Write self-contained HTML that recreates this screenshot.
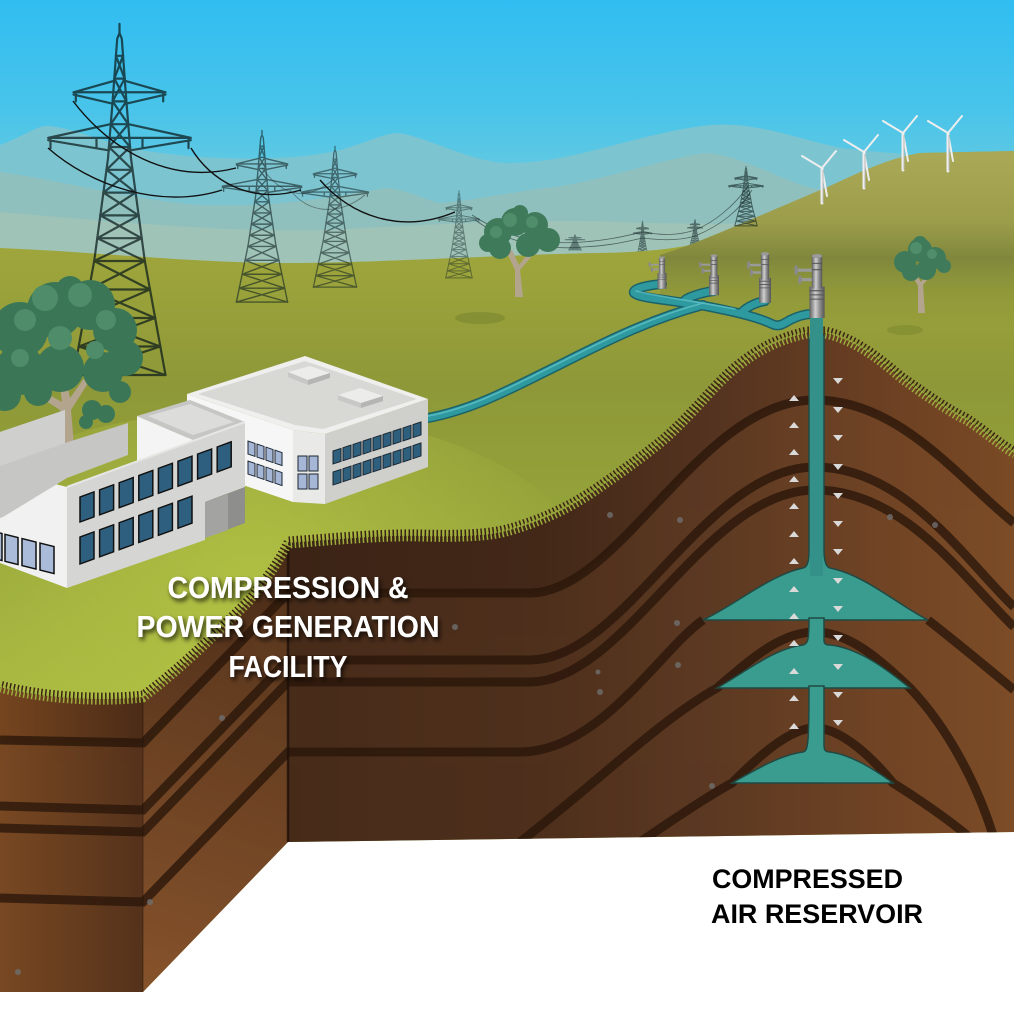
<!DOCTYPE html>
<html><head><meta charset="utf-8"><title>Compressed Air Energy Storage</title>
<style>html,body{margin:0;padding:0;background:#fff;width:1014px;height:1015px;overflow:hidden}svg{display:block}</style>
</head><body>
<svg xmlns="http://www.w3.org/2000/svg" xmlns:xlink="http://www.w3.org/1999/xlink" width="1014" height="1015" viewBox="0 0 1014 1015">
<defs>
 <linearGradient id="sky" gradientUnits="userSpaceOnUse" x1="0" y1="0" x2="0" y2="270">
  <stop offset="0" stop-color="#31bdf1"/><stop offset=".4" stop-color="#48c4ea"/><stop offset=".75" stop-color="#6ecbde"/><stop offset="1" stop-color="#8ccfd3"/>
 </linearGradient>
 <linearGradient id="grd" gradientUnits="userSpaceOnUse" x1="0" y1="245" x2="0" y2="720">
  <stop offset="0" stop-color="#9fa63c"/><stop offset=".3" stop-color="#8e9838"/><stop offset=".6" stop-color="#96a53a"/><stop offset="1" stop-color="#aabb42"/>
 </linearGradient>
 <linearGradient id="hill" gradientUnits="userSpaceOnUse" x1="0" y1="150" x2="0" y2="330">
  <stop offset="0" stop-color="#aaa957"/><stop offset=".4" stop-color="#9c9d4b"/><stop offset=".6" stop-color="#80873c"/><stop offset="1" stop-color="#8f9838" stop-opacity="0"/>
 </linearGradient>
 <radialGradient id="lit" cx="250" cy="580" r="330" gradientUnits="userSpaceOnUse">
  <stop offset="0" stop-color="#b8c846" stop-opacity=".7"/><stop offset="1" stop-color="#b8c846" stop-opacity="0"/>
 </radialGradient>
 <linearGradient id="lf" gradientUnits="userSpaceOnUse" x1="0" y1="0" x2="143" y2="0">
  <stop offset="0" stop-color="#75451f"/><stop offset="1" stop-color="#4b2b17"/>
 </linearGradient>
 <linearGradient id="df" gradientUnits="userSpaceOnUse" x1="143" y1="992" x2="288" y2="560">
  <stop offset="0" stop-color="#86522a"/><stop offset="1" stop-color="#4a2c18"/>
 </linearGradient>
 <linearGradient id="rf" gradientUnits="userSpaceOnUse" x1="288" y1="0" x2="1014" y2="0">
  <stop offset="0" stop-color="#3b2315"/><stop offset=".35" stop-color="#432818"/><stop offset=".6" stop-color="#553420"/><stop offset=".8" stop-color="#6a3f22"/><stop offset="1" stop-color="#7a4a25"/>
 </linearGradient>
 <linearGradient id="metal" x1="0" y1="0" x2="1" y2="0">
  <stop offset="0" stop-color="#5e5e5e"/><stop offset=".4" stop-color="#cfcfcf"/><stop offset=".7" stop-color="#8a8a8a"/><stop offset="1" stop-color="#555"/>
 </linearGradient>
 <clipPath id="soil">
  <path d="M0,687 C40,698 100,702 143,697 C180,670 220,630 250,600 C270,575 280,560 288,543 C330,540 380,535 420,536 C460,537 490,536 510,530 C545,520 575,505 600,487 C625,470 645,455 660,443 C690,418 710,390 733,370 C755,352 775,340 807,333 L825,333 C850,338 875,355 900,377 C925,395 950,412 967,420 C985,432 1000,445 1014,453 L1014,832 L288,842 L143,992 L0,992 Z"/>
 </clipPath>
 <filter id="ts" x="-10%" y="-40%" width="125%" height="180%">
  <feDropShadow dx="2" dy="3" stdDeviation="2.5" flood-color="#000" flood-opacity=".75"/>
 </filter>
 <g id="tw" fill="none" stroke-linecap="round">
  <path vector-effect="non-scaling-stroke" d="M50,-8 L50,0 L48,5 L44,60 L40,110 L28,200 L10,300 M50,0 L52,5 L56,60 L60,110 L72,200 L90,300"/>
  <path vector-effect="non-scaling-stroke" d="M46.9,20H53.1 M45.5,40H54.5 M44,60H56 M42.4,80H57.6 M40.8,100H59.2 M38.7,120H61.3 M36,140H64 M33.3,160H66.7 M30.7,180H69.3 M28,200H72 M23.5,225H76.5 M19,250H81 M14.5,275H85.5 M10,300H90"/>
  <path vector-effect="non-scaling-stroke" d="M46.9,20L54.5,40 M53.1,20L45.5,40 M45.5,40L56,60 M54.5,40L44,60 M44,60L57.6,80 M56,60L42.4,80 M42.4,80L59.2,100 M57.6,80L40.8,100 M40.8,100L61.3,120 M59.2,100L38.7,120 M38.7,120L64,140 M61.3,120L36,140 M36,140L66.7,160 M64,140L33.3,160 M33.3,160L69.3,180 M66.7,160L30.7,180 M30.7,180L72,200 M69.3,180L28,200 M28,200L76.5,225 M72,200L23.5,225 M23.5,225L81,250 M76.5,225L19,250 M19,250L85.5,275 M81,250L14.5,275 M14.5,275L90,300 M85.5,275L10,300"/>
  <path vector-effect="non-scaling-stroke" d="M10,52 L90,52 M10,52 L45,42 M90,52 L55,42 M10,54 L44,62 M90,54 L56,62 M12,52 L12,60 M88,52 L88,60 M-12,92 L112,92 M-12,92 L42,80 M112,92 L58,80 M-12,94 L41,103 M112,94 L59,103 M-10,92 L-10,101 M110,92 L110,101 M30,92 L30,100 M70,92 L70,100"/>
 </g>
 <g id="wh">
  <rect x="-8" y="30" width="16" height="30" fill="url(#metal)"/>
  <rect x="-5.5" y="0" width="11" height="32" fill="url(#metal)"/>
  <path d="M-8,34 H8 M-8,38 H8 M-8,42 H8 M-5.5,8 H5.5 M-5.5,14 H5.5" stroke="#555" stroke-width="1" fill="none"/>
  <ellipse cx="0" cy="1" rx="5.5" ry="2" fill="#9a9a9a"/>
  <rect x="-22" y="13" width="16.5" height="3" fill="#9a9a9a"/>
  <ellipse cx="-22" cy="14.5" rx="2" ry="5" fill="#8a8a8a"/>
  <rect x="-18" y="22" width="12.5" height="3" fill="#9a9a9a"/>
  <ellipse cx="-18" cy="23.5" rx="2" ry="4.5" fill="#8a8a8a"/>
 </g>
</defs>

<!-- sky -->
<rect x="0" y="0" width="1014" height="320" fill="url(#sky)"/>
<!-- mountains -->
<path d="M0,145 C20,138 35,127 45,126 C70,126 100,142 140,150 C220,163 300,160 340,150 C365,143 385,133 398,133 C425,136 465,160 505,163 C570,165 640,132 711,125 C760,122 800,140 841,148 C900,155 960,158 1014,160 L1014,320 L0,320 Z" fill="#7dc4d1"/>
<path d="M0,172 C60,180 130,200 200,205 C280,208 340,196 385,188 C410,190 425,200 440,203 C480,200 520,190 556,187 C610,178 660,160 705,153 C740,155 770,175 808,187 C870,200 950,205 1014,205 L1014,320 L0,320 Z" fill="#8fc0bd"/>
<path d="M0,212 C120,222 220,232 320,230 C420,226 520,218 620,222 C720,226 850,222 1014,218 L1014,320 L0,320 Z" fill="#a2c3b5" opacity=".8"/>

<!-- far towers & wires -->
<g stroke="#2a3a3a" fill="none" stroke-width=".8" opacity=".7">
 <path d="M472,215 C510,240 545,245 583,242 C610,240 625,236 643,232 C665,236 680,235 695,230 C715,222 735,205 748,186"/>
 <path d="M475,220 C510,245 550,250 583,247 C610,246 628,241 643,238 C665,241 682,240 695,236 C720,226 740,210 752,190"/>
</g>
<use href="#tw" xlink:href="#tw" transform="translate(567,235) scale(0.16,0.05)" stroke="#203535" stroke-width=".8" opacity=".5"/>
<use href="#tw" xlink:href="#tw" transform="translate(635,222) scale(0.15,0.12)" stroke="#203535" stroke-width=".8" opacity=".6"/>
<use href="#tw" xlink:href="#tw" transform="translate(689,220) scale(0.12,0.083)" stroke="#203535" stroke-width=".8" opacity=".6"/>

<!-- ground -->
<path d="M0,248 C100,252 200,264 300,263 C400,262 520,254 600,253 C640,252 665,250 690,245 C740,230 790,205 830,186 C860,172 890,158 920,153 L1014,151 L1014,1015 L0,1015 Z" fill="url(#grd)"/>
<path d="M660,255 C700,243 760,215 830,186 C860,172 890,158 920,153 L1014,151 L1014,330 L660,330 Z" fill="url(#hill)"/>
<ellipse cx="250" cy="580" rx="340" ry="170" fill="url(#lit)"/>
<use href="#tw" xlink:href="#tw" transform="translate(732,168) scale(0.28,0.193)" stroke="#0d1e20" stroke-width="1" opacity=".6"/>

<!-- wind turbines -->
<g stroke="#eeeeee" stroke-linecap="round" fill="none">
 <path d="M822,168 L822,203 M864,152 L864,188 M903,133 L903,170 M948,133 L948,171" stroke-width="3"/>
 <path d="M822,168 L802,156 M822,168 L836,151 M822,168 L827,196 M864,152 L844,140 M864,152 L878,135 M864,152 L869,180 M903,133 L883,121 M903,133 L917,116 M903,133 L908,161 M948,133 L928,121 M948,133 L962,116 M948,133 L953,161" stroke-width="2"/>
</g>
<g stroke="#b8b8b8" stroke-width="1" fill="none">
 <path d="M823,170 L823,203 M865,154 L865,188 M904,135 L904,170 M949,135 L949,171"/>
</g>

<!-- main towers -->
<use href="#tw" xlink:href="#tw" transform="translate(442.5,193) scale(0.33,0.283)" stroke="#102222" stroke-width="1" opacity=".45"/>
<use href="#tw" xlink:href="#tw" transform="translate(308,150) scale(0.54,0.457)" stroke="#102222" stroke-width="1.3" opacity=".55"/>
<use href="#tw" xlink:href="#tw" transform="translate(230,135) scale(0.64,0.557)" stroke="#102222" stroke-width="1.4" opacity=".6"/>
<use href="#tw" xlink:href="#tw" transform="translate(62,33) scale(1.15,1.14)" stroke="#0a1a1a" stroke-width="2.2" opacity=".72"/>
<g fill="none" stroke="#111" stroke-width="1.4">
 <path d="M73,101 C110,150 170,185 236,168"/>
 <path d="M48,148 C90,185 160,210 222,190"/>
 <path d="M191,148 C210,180 250,205 301,190"/>
 <path d="M320,180 C350,215 400,235 455,212"/>
</g>
<g fill="none" stroke="#222" stroke-width="1" opacity=".45">
 <path d="M262,168 C285,200 310,200 335,178"/>
 <path d="M290,190 C310,215 340,215 365,195"/>
</g>

<!-- trees -->
<ellipse cx="480" cy="318" rx="25" ry="6" fill="#7a8630" opacity=".6"/>
<path d="M515,297 L523,297 L520,270 L533,255 L529,252 L519,265 L512,250 L507,253 L515,270 Z" fill="#b3a48d"/>
<g fill="#3f7b5b">
 <circle cx="498" cy="232" r="14"/><circle cx="515" cy="222" r="14"/><circle cx="535" cy="225" r="13"/><circle cx="548" cy="240" r="12"/><circle cx="528" cy="245" r="12"/><circle cx="500" cy="248" r="11"/><circle cx="488" cy="243" r="9"/><circle cx="520" cy="213" r="8"/>
</g>
<g fill="#4f8d6b"><circle cx="510" cy="220" r="7"/><circle cx="532" cy="222" r="6"/><circle cx="496" cy="232" r="6"/></g>
<ellipse cx="905" cy="330" rx="18" ry="5" fill="#7a8630" opacity=".5"/>
<path d="M918,313 L925,313 L923,285 L931,275 L928,272 L921,282 L914,271 L911,273 L918,286 Z" fill="#b3a48d"/>
<g fill="#3f7b5b"><circle cx="905" cy="262" r="11"/><circle cx="920" cy="250" r="12"/><circle cx="935" cy="258" r="11"/><circle cx="926" cy="270" r="10"/><circle cx="911" cy="272" r="9"/><circle cx="944" cy="266" r="7"/><circle cx="920" cy="243" r="7"/></g>
<g fill="#4f8d6b"><circle cx="916" cy="248" r="6"/><circle cx="932" cy="254" r="5"/></g>

<!-- left tree -->
<path d="M58,445 L74,445 L71,410 L90,380 L85,377 L70,398 L64,368 L58,370 L62,402 L22,380 L19,384 L60,410 Z" fill="#b3a48d"/>
<g fill="#3b7757">
 <circle cx="20" cy="330" r="28"/><circle cx="55" cy="310" r="28"/><circle cx="90" cy="305" r="25"/><circle cx="115" cy="330" r="22"/><circle cx="125" cy="358" r="18"/><circle cx="103" cy="372" r="20"/><circle cx="60" cy="368" r="24"/><circle cx="20" cy="370" r="25"/><circle cx="5" cy="395" r="16"/><circle cx="38" cy="392" r="14"/><circle cx="120" cy="392" r="11"/><circle cx="70" cy="290" r="14"/>
 <circle cx="92" cy="410" r="10"/><circle cx="106" cy="414" r="9"/><circle cx="86" cy="422" r="7"/>
</g>
<g fill="#4e8c6a">
 <circle cx="45" cy="298" r="13"/><circle cx="80" cy="295" r="12"/><circle cx="25" cy="320" r="11"/><circle cx="106" cy="320" r="10"/><circle cx="60" cy="338" r="12"/><circle cx="95" cy="350" r="9"/><circle cx="20" cy="358" r="9"/>
</g>

<!-- wellheads & pipes -->
<g fill="none" stroke-linecap="round" stroke-linejoin="round">
 <g stroke="#1b6269" stroke-width="10">
  <path d="M428,418 C470,410 505,392 545,372 C590,350 640,322 703,305"/>
  <path d="M662,284 C650,285 632,288 634,293 C638,298 670,300 705,306 C730,311 755,316 772,324 C778,327 782,325 790,320 C798,316 805,314 812,314"/>
  <path d="M714,291 C705,292 690,296 685,300"/><path d="M765,301 C758,302 748,306 742,312"/>
 </g>
 <g stroke="#2e9aa0" stroke-width="7">
  <path d="M428,418 C470,410 505,392 545,372 C590,350 640,322 703,305"/>
  <path d="M662,284 C650,285 632,288 634,293 C638,298 670,300 705,306 C730,311 755,316 772,324 C778,327 782,325 790,320 C798,316 805,314 812,314"/>
  <path d="M714,291 C705,292 690,296 685,300"/><path d="M765,301 C758,302 748,306 742,312"/>
 </g>
 <g stroke="#66c6cc" stroke-width="1.6" opacity=".7">
  <path d="M428,416 C470,408 505,390 545,370 C590,348 640,320 703,303"/>
  <path d="M636,291 C660,297 700,302 735,309"/>
 </g>
</g>
<use href="#wh" xlink:href="#wh" transform="translate(662,257) scale(0.56,0.53)"/>
<use href="#wh" xlink:href="#wh" transform="translate(714,255) scale(0.62,0.67)"/>
<use href="#wh" xlink:href="#wh" transform="translate(765,253) scale(0.75,0.83)"/>
<use href="#wh" xlink:href="#wh" transform="translate(817,255) scale(0.95,1.05)"/>

<!-- buildings: right building -->
<polygon points="187,394 293,430 293,502 187,466" fill="#f6f6f6"/>
<polygon points="293,430 325,434 325,504 293,502" fill="#e9e9e8"/>
<polygon points="325,434 428,399 428,467 325,504" fill="#cfcfcc"/>
<polygon points="187,394 305,356 428,399 325,434 293,430" fill="#efefed"/>
<polygon points="198,394 305,361 417,399 323,429 295,425" fill="#d8d8d5"/>
<polygon points="288,372 310,366 330,373 308,380" fill="#ececea"/>
<polygon points="308,380 330,373 330,378 308,385" fill="#b5b5b3"/>
<polygon points="288,372 308,380 308,385 288,377" fill="#c8c8c6"/>
<polygon points="338,395 360,388 383,396 361,403" fill="#ececea"/>
<polygon points="361,403 383,396 383,401 361,408" fill="#b5b5b3"/>
<polygon points="338,395 361,403 361,408 338,400" fill="#c8c8c6"/>
<g transform="matrix(1,-0.33,0,1,0,109.9)" fill="#2e5f7d" stroke="#1a2630" stroke-width="1">
 <rect x="333" y="451" width="8" height="13"/><rect x="343" y="451" width="8" height="13"/><rect x="353" y="451" width="8" height="13"/><rect x="363" y="451" width="8" height="13"/><rect x="373" y="451" width="8" height="13"/><rect x="383" y="451" width="8" height="13"/><rect x="393" y="451" width="8" height="13"/><rect x="403" y="451" width="8" height="13"/><rect x="413" y="451" width="8" height="13"/>
 <rect x="333" y="472" width="8" height="13"/><rect x="343" y="472" width="8" height="13"/><rect x="353" y="472" width="8" height="13"/><rect x="363" y="472" width="8" height="13"/><rect x="373" y="472" width="8" height="13"/><rect x="383" y="472" width="8" height="13"/><rect x="393" y="472" width="8" height="13"/><rect x="403" y="472" width="8" height="13"/><rect x="413" y="472" width="8" height="13"/>
</g>
<g fill="#a5b6d6" stroke="#1a2630" stroke-width="1">
 <rect x="298" y="456" width="9" height="15"/><rect x="309" y="456" width="9" height="15"/><rect x="298" y="474" width="9" height="15"/><rect x="309" y="474" width="9" height="15"/>
</g>
<g transform="matrix(1,0.34,0,1,0,-84.3)" fill="#a5b6d6" stroke="#1a2630" stroke-width="1">
 <rect x="248" y="441" width="7" height="13"/><rect x="257" y="441" width="7" height="13"/><rect x="266" y="441" width="7" height="13"/><rect x="275" y="441" width="7" height="13"/>
 <rect x="248" y="461" width="7" height="13"/><rect x="257" y="461" width="7" height="13"/><rect x="266" y="461" width="7" height="13"/><rect x="275" y="461" width="7" height="13"/>
</g>

<!-- middle box -->
<polygon points="137,416 193,440 193,470 137,480" fill="#f4f4f4"/>
<polygon points="193,440 245,422 245,440 193,458" fill="#d4d4d2"/>
<polygon points="137,416 190,400 245,422 193,440" fill="#c6c6c4"/>
<polygon points="148,416 190,404 234,422 193,435" fill="#dcdcda"/>

<!-- left building -->
<polygon points="0,470 67,487 67,588 0,563" fill="#f1f1f1"/>
<polygon points="0,432 65,410 65,443 128,423 128,455 67,478 3,517 0,518" fill="#c6c6c4"/>
<polygon points="65,410 65,443 0,466 0,432" fill="#cfcfcd"/>
<polygon points="67,487 245,422 245,487 205,502 205,540 67,588" fill="#d5d5d3"/>
<polygon points="205,502 245,487 245,523 205,538" fill="#8e8e8c"/>
<polygon points="205,502 228,494 228,530 205,538" fill="#a3a3a1"/>
<path d="M67,487 L245,422" stroke="#e6e6e4" stroke-width="2" fill="none"/>
<g transform="matrix(1,-0.365,0,1,0,29.2)" fill="#2f5f7e" stroke="#111" stroke-width="1.5">
 <rect x="80" y="497" width="14" height="25"/><rect x="99.6" y="497" width="14" height="25"/><rect x="119.2" y="497" width="14" height="25"/><rect x="138.8" y="497" width="14" height="25"/><rect x="158.4" y="497" width="14" height="25"/><rect x="178" y="497" width="14" height="25"/><rect x="197.6" y="497" width="14" height="25"/><rect x="217.2" y="497" width="14" height="25"/>
 <rect x="80" y="537" width="14" height="27"/><rect x="99.6" y="537" width="14" height="27"/><rect x="119.2" y="537" width="14" height="27"/><rect x="138.8" y="537" width="14" height="27"/><rect x="158.4" y="537" width="14" height="27"/><rect x="178" y="537" width="14" height="27"/>
</g>
<g transform="matrix(1,0.25,0,1,0,0)" fill="#a9bbd8" stroke="#111" stroke-width="1.5">
 <rect x="-10" y="533" width="12" height="27"/><rect x="5" y="533" width="13" height="27"/><rect x="22" y="533" width="14" height="27"/><rect x="40" y="533" width="14" height="27"/>
</g>

<!-- white base -->
<path d="M0,992 L143,992 L288,842 L1014,832 L1014,1015 L0,1015 Z" fill="#fff"/>

<!-- soil -->
<g clip-path="url(#soil)">
 <rect x="0" y="300" width="143" height="720" fill="url(#lf)"/>
 <rect x="143" y="300" width="145" height="720" fill="url(#df)"/>
 <rect x="288" y="300" width="726" height="720" fill="url(#rf)"/>
 <g fill="#8a5a32" opacity=".16">
  <path d="M0,740 L143,743 L288,593 L530,593 C620,593 700,400 815,400 C900,400 960,480 1014,523 L1014,1015 L0,1015 Z"/>
  <path d="M0,806 L143,810 L288,660 L530,660 C625,660 705,467 815,467 C905,467 965,560 1014,607 L1014,1015 L0,1015 Z"/>
  <path d="M0,828 L143,832 L288,682 L530,682 C625,682 705,490 815,490 C905,490 965,580 1014,627 L1014,1015 L0,1015 Z"/>
  <path d="M0,898 L143,902 L288,752 L520,752 C600,752 660,650 703,620 L928,620 C960,645 990,670 1014,690 L1014,1015 L0,1015 Z"/>
  <path d="M520,842 C600,780 660,720 717,688 C750,660 780,632 815,632 C850,632 880,660 910,688 C950,730 980,790 995,842 Z"/>
  <path d="M640,842 C680,815 710,795 732,783 C760,755 790,728 815,728 C840,728 870,755 893,783 C920,800 950,820 975,842 Z"/>
 </g>
 <path d="M0,600 L1014,300 L1014,0 L0,0 Z" fill="none"/>
 <g fill="none" stroke="#2a160a" stroke-width="9" opacity=".78">
  <path d="M0,740 L143,743 L288,593 L530,593 C620,593 700,400 815,400 C900,400 960,480 1014,523"/>
  <path d="M0,806 L143,810 L288,660 L530,660 C625,660 705,467 815,467 C905,467 965,560 1014,607"/>
  <path d="M0,828 L143,832 L288,682 L530,682 C625,682 705,490 815,490 C905,490 965,580 1014,627"/>
  <path d="M0,898 L143,902 L288,752 L520,752 C600,752 660,650 703,620 M928,620 C960,645 990,670 1014,690"/>
  <path d="M520,842 C600,780 660,720 717,688 C750,660 780,632 815,632 C850,632 880,660 910,688 C950,730 980,790 995,842"/>
  <path d="M640,842 C680,815 710,795 732,783 C760,755 790,728 815,728 C840,728 870,755 893,783 C920,800 950,820 975,842"/>
 </g>
 <path d="M288,540 L288,842" stroke="#1e1008" stroke-width="2.5" opacity=".8"/>
 <path d="M143,695 L143,992" stroke="#1e1008" stroke-width="1" opacity=".45"/>
 <g fill="#6f6f6f" opacity=".8">
  <circle cx="455" cy="627" r="3"/><circle cx="678" cy="665" r="3"/><circle cx="598" cy="672" r="2.5"/><circle cx="680" cy="520" r="3"/><circle cx="890" cy="517" r="3"/><circle cx="935" cy="525" r="3"/><circle cx="222" cy="718" r="3"/><circle cx="150" cy="902" r="3"/><circle cx="18" cy="972" r="3"/><circle cx="712" cy="786" r="3"/><circle cx="610" cy="515" r="3"/><circle cx="600" cy="692" r="3"/><circle cx="677" cy="623" r="3"/>
 </g>
 <!-- reservoir -->
 <g fill="#3a9c8f" stroke="#1f4a44" stroke-width="1.5">
  <path d="M703,620 C735,605 770,575 803,568 C808,567 809,560 809,550 L809,335 L824,335 L824,550 C824,560 826,567 830,568 C865,575 898,605 928,620 Z"/>
  <path d="M717,688 C745,672 775,648 803,645 C808,644 809,640 809,618 L824,618 L824,640 C824,644 826,645 830,645 C860,648 890,672 910,688 Z"/>
  <path d="M732,783 C755,770 780,755 803,752 C808,751 809,745 809,686 L824,686 L824,745 C824,751 826,752 830,752 C852,755 875,770 893,783 Z"/>
 </g>
 <rect x="810" y="336" width="13" height="240" fill="#34918a"/>
 <g fill="#d9d9d9">
  <polygon points="789,401 799,401 794,395"/><polygon points="789,428 799,428 794,422"/><polygon points="789,455 799,455 794,449"/><polygon points="789,482 799,482 794,476"/><polygon points="789,509 799,509 794,503"/><polygon points="789,537 799,537 794,531"/><polygon points="789,564 799,564 794,558"/><polygon points="789,592 799,592 794,586"/><polygon points="789,619 799,619 794,613"/><polygon points="789,646 799,646 794,640"/><polygon points="789,674 799,674 794,668"/><polygon points="789,701 799,701 794,695"/><polygon points="789,729 799,729 794,723"/>
  <polygon points="833,378 843,378 838,384"/><polygon points="833,407 843,407 838,413"/><polygon points="833,435 843,435 838,441"/><polygon points="833,464 843,464 838,470"/><polygon points="833,493 843,493 838,499"/><polygon points="833,521 843,521 838,527"/><polygon points="833,549 843,549 838,555"/><polygon points="833,578 843,578 838,584"/><polygon points="833,606 843,606 838,612"/><polygon points="833,635 843,635 838,641"/><polygon points="833,664 843,664 838,670"/><polygon points="833,692 843,692 838,698"/><polygon points="833,720 843,720 838,726"/>
 </g>
</g>
<!-- grass fringe -->
<path d="M0,687 C40,698 100,702 143,697 C180,670 220,630 250,600 C270,575 280,560 288,543 C330,540 380,535 420,536 C460,537 490,536 510,530 C545,520 575,505 600,487 C625,470 645,455 660,443 C690,418 710,390 733,370 C755,352 775,340 807,333 L825,333 C850,338 875,355 900,377 C925,395 950,412 967,420 C985,432 1000,445 1014,453" fill="none" stroke="#3a2214" stroke-width="7" stroke-dasharray="1.5 2.5" stroke-dashoffset="2" transform="translate(0,-3)"/>
<path d="M0,687 C40,698 100,702 143,697 C180,670 220,630 250,600 C270,575 280,560 288,543 C330,540 380,535 420,536 C460,537 490,536 510,530 C545,520 575,505 600,487 C625,470 645,455 660,443 C690,418 710,390 733,370 C755,352 775,340 807,333 L825,333 C850,338 875,355 900,377 C925,395 950,412 967,420 C985,432 1000,445 1014,453" fill="none" stroke="#9cad3e" stroke-width="7" stroke-dasharray="1.5 2.5" transform="translate(0,2)"/>
<rect x="810" y="318" width="13" height="22" fill="#34918a"/>

<!-- labels -->
<g font-family="'Liberation Sans', Arial, sans-serif" font-weight="700" fill="#fff" text-anchor="middle" filter="url(#ts)" font-size="31">
 <text x="288" y="598" textLength="241" lengthAdjust="spacingAndGlyphs">COMPRESSION &amp;</text>
 <text x="288" y="637" textLength="303" lengthAdjust="spacingAndGlyphs">POWER GENERATION</text>
 <text x="288" y="677" textLength="119" lengthAdjust="spacingAndGlyphs">FACILITY</text>
</g>
<g font-family="'Liberation Sans', Arial, sans-serif" font-weight="700" fill="#000" font-size="27">
 <text x="712" y="888" textLength="191" lengthAdjust="spacingAndGlyphs">COMPRESSED</text>
 <text x="711" y="923" textLength="212" lengthAdjust="spacingAndGlyphs">AIR RESERVOIR</text>
</g>
</svg>
</body></html>
